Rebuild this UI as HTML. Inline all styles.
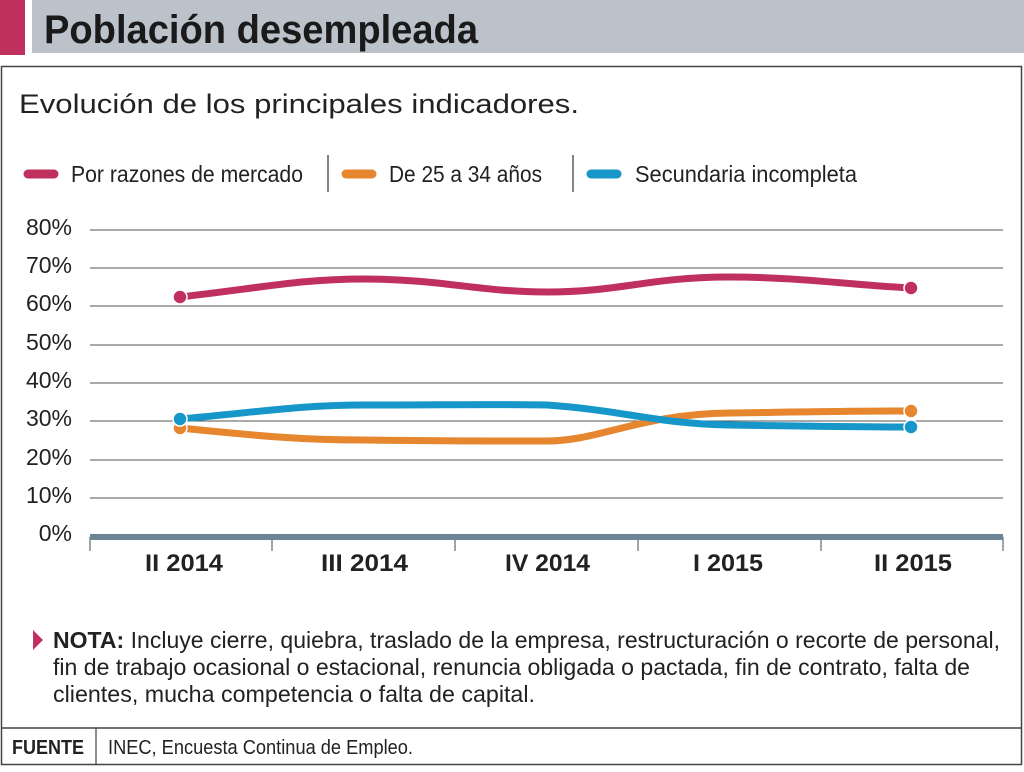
<!DOCTYPE html>
<html><head><meta charset="utf-8"><style>
html,body{margin:0;padding:0;background:#fff;}
body{width:1024px;height:767px;overflow:hidden;}
text{font-family:"Liberation Sans",sans-serif;}
</style></head><body>
<svg width="1024" height="767" viewBox="0 0 1024 767" xmlns="http://www.w3.org/2000/svg">
<rect x="0" y="0" width="25" height="55" fill="#c0305f"/>
<rect x="32" y="0" width="992" height="53" fill="#bcc2ca"/>
<text x="44" y="43" font-size="40" font-weight="bold" fill="#1a1a1a" textLength="434" lengthAdjust="spacingAndGlyphs">Población desempleada</text>
<rect x="1.5" y="66.5" width="1020" height="698" fill="none" stroke="#444" stroke-width="1.5"/>
<text x="19" y="113" font-size="27" fill="#222" textLength="560" lengthAdjust="spacingAndGlyphs">Evolución de los principales indicadores.</text>
<g font-size="23" fill="#222">
<line x1="28" y1="174" x2="54" y2="174" stroke="#c0305f" stroke-width="9" stroke-linecap="round"/>
<text x="71" y="182" textLength="232" lengthAdjust="spacingAndGlyphs">Por razones de mercado</text>
<line x1="328" y1="155" x2="328" y2="192" stroke="#333" stroke-width="1.2"/>
<line x1="346" y1="174" x2="372" y2="174" stroke="#e6862e" stroke-width="9" stroke-linecap="round"/>
<text x="389" y="182" textLength="153" lengthAdjust="spacingAndGlyphs">De 25 a 34 años</text>
<line x1="573" y1="155" x2="573" y2="192" stroke="#333" stroke-width="1.2"/>
<line x1="591" y1="174" x2="617" y2="174" stroke="#1797c9" stroke-width="9" stroke-linecap="round"/>
<text x="635" y="182" textLength="222" lengthAdjust="spacingAndGlyphs">Secundaria incompleta</text>
</g>
<g stroke="#555" stroke-width="1">
<line x1="90" y1="230" x2="1003" y2="230"/>
<line x1="90" y1="268" x2="1003" y2="268"/>
<line x1="90" y1="306" x2="1003" y2="306"/>
<line x1="90" y1="345" x2="1003" y2="345"/>
<line x1="90" y1="383" x2="1003" y2="383"/>
<line x1="90" y1="421" x2="1003" y2="421"/>
<line x1="90" y1="460" x2="1003" y2="460"/>
<line x1="90" y1="498" x2="1003" y2="498"/>
</g>
<g stroke="#666" stroke-width="1.2">
<line x1="90" y1="537" x2="90" y2="551"/><line x1="272" y1="537" x2="272" y2="551"/>
<line x1="455" y1="537" x2="455" y2="551"/><line x1="638" y1="537" x2="638" y2="551"/>
<line x1="821" y1="537" x2="821" y2="551"/><line x1="1003" y1="537" x2="1003" y2="551"/>
</g>
<rect x="90" y="534" width="913" height="6" fill="#6b8597"/>
<g font-size="23" fill="#222" text-anchor="end">
<text x="72" y="235">80%</text><text x="72" y="273">70%</text><text x="72" y="311">60%</text>
<text x="72" y="350">50%</text><text x="72" y="388">40%</text><text x="72" y="426">30%</text>
<text x="72" y="465">20%</text><text x="72" y="503">10%</text><text x="72" y="541">0%</text>
</g>
<g font-size="24" font-weight="bold" fill="#222">
<text x="145" y="571" textLength="78" lengthAdjust="spacingAndGlyphs">II 2014</text>
<text x="321" y="571" textLength="87" lengthAdjust="spacingAndGlyphs">III 2014</text>
<text x="505" y="571" textLength="85" lengthAdjust="spacingAndGlyphs">IV 2014</text>
<text x="693" y="571" textLength="70" lengthAdjust="spacingAndGlyphs">I 2015</text>
<text x="874" y="571" textLength="78" lengthAdjust="spacingAndGlyphs">II 2015</text>
</g>
<g fill="none" stroke-width="7" stroke-linejoin="round" stroke-linecap="round">
<path d="M180,297 C260,288 300,279 364,279 C440,279 480,292 547,292 C620,292 650,277 729,277 C800,277 850,285 911,288" stroke="#c0305f"/>
<path d="M180,428 C260,436 300,440 364,440 C440,441 500,441 547,441 C600,441 640,414 729,413 C800,412 850,411 911,411" stroke="#e6862e"/>
<path d="M180,419 C260,412 300,405 364,405 C440,405 500,404 547,405 C620,410 660,424 729,425 C800,426 850,427 911,427" stroke="#1797c9"/>
</g>
<circle cx="180" cy="297" r="7" fill="#c0305f" stroke="#fff" stroke-width="1.5"/>
<circle cx="911" cy="288" r="7" fill="#c0305f" stroke="#fff" stroke-width="1.5"/>
<circle cx="180" cy="428" r="7" fill="#e6862e" stroke="#fff" stroke-width="1.5"/>
<circle cx="911" cy="411" r="7" fill="#e6862e" stroke="#fff" stroke-width="1.5"/>
<circle cx="180" cy="419" r="7" fill="#1797c9" stroke="#fff" stroke-width="1.5"/>
<circle cx="911" cy="427" r="7" fill="#1797c9" stroke="#fff" stroke-width="1.5"/>
<polygon points="33,630 43,640 33,650" fill="#c0305f"/>
<g font-size="23" fill="#222">
<text x="53" y="648" textLength="947" lengthAdjust="spacingAndGlyphs"><tspan font-weight="bold">NOTA:</tspan> Incluye cierre, quiebra, traslado de la empresa, restructuración o recorte de personal,</text>
<text x="53" y="675" textLength="917" lengthAdjust="spacingAndGlyphs">fin de trabajo ocasional o estacional, renuncia obligada o pactada, fin de contrato, falta de</text>
<text x="53" y="702" textLength="482" lengthAdjust="spacingAndGlyphs">clientes, mucha competencia o falta de capital.</text>
</g>
<line x1="1" y1="728" x2="1022" y2="728" stroke="#444" stroke-width="1.5"/>
<line x1="96" y1="728" x2="96" y2="765" stroke="#444" stroke-width="1.2"/>
<text x="12" y="754" font-size="20" font-weight="bold" fill="#222" textLength="72" lengthAdjust="spacingAndGlyphs">FUENTE</text>
<text x="108" y="754" font-size="20" fill="#222" textLength="305" lengthAdjust="spacingAndGlyphs">INEC, Encuesta Continua de Empleo.</text>
</svg>
</body></html>
